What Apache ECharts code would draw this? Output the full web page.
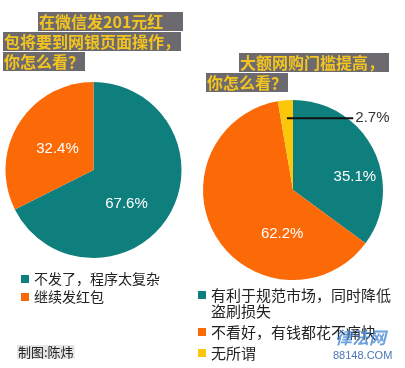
<!DOCTYPE html>
<html>
<head>
<meta charset="utf-8">
<script src="https://cdn.jsdelivr.net/npm/echarts@6/dist/echarts.min.js"></script>
<style>
html,body{margin:0;padding:0;background:#fff;}
#c{width:405px;height:368px;}
</style>
</head>
<body>
<div id="c"></div>
<script>
// ---- data ----
const leftCategories = ['不发了，程序太复杂', '继续发红包'];
const leftValues = [67.6, 32.4];
const rightCategories = ['有利于规范市场，同时降低盗刷损失', '不看好，有钱都花不痛快', '无所谓'];
const rightValues = [35.1, 62.2, 2.7];
const leftTitleLines = ['在微信发201元红', '包将要到网银页面操作，', '你怎么看？'];
const rightTitleLines = ['大额网购门槛提高，', '你怎么看？'];
const sourceText = '制图:陈炜';

// ---- styles ----
const TEAL = '#0f7f7e';
const ORANGE = '#fb6a07';
const YELLOW = '#fcc60a';
const FONT = '"Noto Sans CJK SC", "Noto Sans", sans-serif';
const LABEL_FONT = '"Liberation Sans", Arial, sans-serif';
const LEFT_PIE = { cx: 93.5, cy: 170, r: 88 };
const RIGHT_PIE = { cx: 293, cy: 190, r: 90 };

const chart = echarts.init(document.getElementById('c'), null, { renderer: 'canvas' });

function titleBox(text, left, top, width) {
  const ts = { color: '#f3c420', fontSize: 16, fontWeight: 'bold', fontFamily: FONT, lineHeight: 19 };
  if (width) ts.width = width;
  return {
    text: text,
    left: left,
    top: top,
    padding: [0, 1],
    backgroundColor: '#6d6a6f',
    textStyle: ts
  };
}

const titles = [
  titleBox(leftTitleLines[0], 38, 12, 143),
  titleBox(leftTitleLines[1], 3, 32),
  titleBox(leftTitleLines[2], 3, 52),
  titleBox(rightTitleLines[0], 239, 53, 148),
  titleBox(rightTitleLines[1], 206, 73),
  {
    text: sourceText, left: 17, top: 345, padding: [0, 1],
    backgroundColor: '#e6e6e6',
    textStyle: { color: '#222', fontSize: 13, fontWeight: 'normal', fontFamily: FONT, lineHeight: 14 }
  }
];

const pctFmt = p => p.value.toFixed(1) + '%';

// inside label nudges (dx, dy) per slice
const leftNudge = [[-7, 9], [4, 4]];
const rightNudge = [[19, 9], [30, 19]];

// callout for the small slice: leader line starts inside the slice, runs right to the label
function calloutLayout(p) {
  const total = rightValues.reduce((a, b) => a + b, 0);
  let before = 0;
  for (let i = 0; i < p.dataIndex; i++) before += rightValues[i];
  const frac = (before + rightValues[p.dataIndex] / 2) / total;
  const th = frac * Math.PI * 2;
  const ax = RIGHT_PIE.cx + 0.8 * RIGHT_PIE.r * Math.sin(th);
  const ay = RIGHT_PIE.cy - 0.8 * RIGHT_PIE.r * Math.cos(th);
  const ex = RIGHT_PIE.cx + 0.67 * RIGHT_PIE.r;
  return {
    x: ex + 2, y: ay, align: 'left', verticalAlign: 'middle',
    labelLinePoints: [[ax, ay], [(ax + ex) / 2, ay], [ex, ay]]
  };
}

const option = {
  backgroundColor: '#ffffff',
  animation: false,
  title: titles,
  legend: [
    {
      data: leftCategories,
      orient: 'vertical',
      left: 21, top: 272,
      padding: 0,
      itemWidth: 8, itemHeight: 8, itemGap: 4,
      icon: 'rect',
      selectedMode: false,
      textStyle: { color: '#222', fontSize: 14, fontFamily: FONT, lineHeight: 14 }
    },
    {
      data: rightCategories,
      orient: 'vertical',
      left: 198, top: 271,
      padding: 0,
      itemWidth: 8, itemHeight: 8, itemGap: 5,
      icon: 'rect',
      selectedMode: false,
      // leading empty line keeps the icon level with the first text line
      formatter: name => name === rightCategories[0] ? '\n' + name.slice(0, 12) + '\n' + name.slice(12) : name,
      textStyle: { color: '#222', fontSize: 15, fontFamily: FONT, lineHeight: 16 }
    }
  ],
  series: [
    {
      type: 'pie',
      center: [LEFT_PIE.cx, LEFT_PIE.cy],
      radius: LEFT_PIE.r,
      startAngle: 90,
      clockwise: true,
      avoidLabelOverlap: false,
      itemStyle: { borderWidth: 0 },
      label: { show: true, position: 'inside', formatter: pctFmt, color: '#fff', fontSize: 15, fontFamily: LABEL_FONT },
      labelLine: { show: false },
      labelLayout: p => ({ dx: leftNudge[p.dataIndex][0], dy: leftNudge[p.dataIndex][1] }),
      emphasis: { disabled: true },
      data: leftCategories.map((n, i) => ({ name: n, value: leftValues[i], itemStyle: { color: [TEAL, ORANGE][i] } }))
    },
    {
      type: 'pie',
      center: [RIGHT_PIE.cx, RIGHT_PIE.cy],
      radius: RIGHT_PIE.r,
      startAngle: 90,
      clockwise: true,
      avoidLabelOverlap: false,
      itemStyle: { borderWidth: 0 },
      label: { show: true, position: 'inside', formatter: pctFmt, color: '#fff', fontSize: 15, fontFamily: LABEL_FONT },
      labelLine: { show: false },
      labelLayout: p => p.dataIndex < 2 ? { dx: rightNudge[p.dataIndex][0], dy: rightNudge[p.dataIndex][1] } : {},
      emphasis: { disabled: true },
      data: rightCategories.map((n, i) => {
        const d = { name: n, value: rightValues[i], itemStyle: { color: [TEAL, ORANGE, YELLOW][i] } };
        if (i === 2) d.label = { show: false };
        return d;
      })
    },
    {
      // transparent overlay of the same pie that carries only the small slice's callout, drawn above the sectors
      type: 'pie',
      z: 10,
      silent: true,
      legendHoverLink: false,
      center: [RIGHT_PIE.cx, RIGHT_PIE.cy],
      radius: RIGHT_PIE.r,
      startAngle: 90,
      clockwise: true,
      avoidLabelOverlap: false,
      itemStyle: { color: 'rgba(0,0,0,0)', borderWidth: 0 },
      label: { show: false },
      labelLine: { show: false },
      labelLayout: p => p.dataIndex === 2 ? calloutLayout(p) : {},
      emphasis: { disabled: true },
      data: rightCategories.map((n, i) => {
        const d = { name: n, value: rightValues[i] };
        if (i === 2) {
          d.label = { show: true, position: 'outside', formatter: pctFmt, color: '#333', fontSize: 15, fontFamily: LABEL_FONT };
          d.labelLine = { show: true, showAbove: true, length: 10, length2: 10, lineStyle: { color: '#111', width: 2 } };
        }
        return d;
      })
    }
  ],
  graphic: [
    { type: 'text', left: 335, top: 329, z: 100, style: { text: '律法网', fill: 'rgba(60,130,210,0.75)', font: 'bold italic 17px ' + FONT } },
    { type: 'text', left: 333, top: 350, z: 100, style: { text: '88148.COM', fill: 'rgba(40,95,170,0.85)', font: '11px "Liberation Sans", Arial, sans-serif' } }
  ]
};

chart.setOption(option);
</script>
</body>
</html>
